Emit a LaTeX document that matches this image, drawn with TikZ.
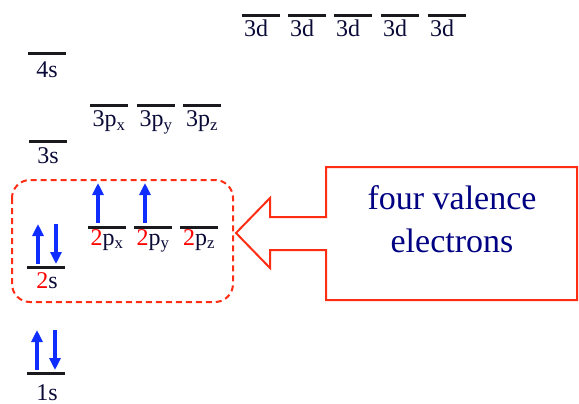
\documentclass[tikz,border=0pt]{standalone}
\usepackage{fontspec}
\setmainfont{Liberation Serif}
\usetikzlibrary{arrows.meta, positioning, calc}

\definecolor{barcol}{RGB}{25,25,30}
\definecolor{lblcol}{RGB}{10,10,55}
\definecolor{boxred}{RGB}{255,45,20}
\definecolor{elblue}{RGB}{15,45,255}
\definecolor{navytext}{RGB}{0,0,130}

\begin{document}
\begin{tikzpicture}[
    x=1pt, y=-1pt,
    bar/.style={draw=barcol, line width=3pt},
    lbl/.style={text=lblcol, font=\fontsize{24}{26}\selectfont, anchor=base, inner sep=0pt},
    spin/.style={draw=elblue, line width=3.5pt, -{Triangle[length=12pt, width=11pt]}},
    ]
    \useasboundingbox (0,0) rectangle (579,404);

    % Macro for one orbital level: bar + label
    % #1 name, #2 left x, #3 bar y, #4 label, #5 label centre x, #6 label baseline y
    \newcommand{\orbital}[6]{
        \coordinate (#1-l) at (#2,#3);
        \coordinate (#1-r) at (#2+38,#3);
        \draw[bar] (#1-l) -- (#1-r);
        \node[lbl] (#1) at (#5,#6) {#4};
    }
    \newcommand{\two}{\textcolor{red}{2}}

    % ==========================================
    % Orbital levels
    % ==========================================
    \orbital{o1s}{27}{373}{1s}{47}{400}
    \orbital{o2s}{27}{267}{\two s}{47}{288}
    \orbital{o3s}{29}{141}{3s}{48}{163}
    \orbital{o4s}{28}{54}{4s}{47}{78}

    \foreach \name/\x/\sub in {x/88/x, y/134/y, z/180/z}
        \orbital{o2p\name}{\x}{227}{\two p\textsubscript{\sub}}{\x+19}{245};
    \foreach \name/\x/\sub in {x/90/x, y/137/y, z/183/z}
        \orbital{o3p\name}{\x}{106}{3p\textsubscript{\sub}}{\x+19}{127};
    \foreach \i/\x in {1/242, 2/288, 3/334, 4/381, 5/428}
        \orbital{o3d\i}{\x}{16}{3d}{\x+14}{37};

    % ==========================================
    % Electrons
    % ==========================================
    \draw[spin] ($(o1s-l)+(10,-3)$) -- ++(0,-40);
    \draw[spin] ($(o1s-l)+(28,-43)$) -- ++(0,40);
    \draw[spin] ($(o2s-l)+(11,-3)$) -- ++(0,-40);
    \draw[spin] ($(o2s-l)+(29,-43)$) -- ++(0,40);
    \draw[spin] ($(o2px-l)+(10,-4)$) -- ++(0,-40);
    \draw[spin] ($(o2py-l)+(11,-4)$) -- ++(0,-40);

    % ==========================================
    % Valence box and callout
    % ==========================================
    \draw[boxred, line width=2pt, dash pattern=on 6pt off 4pt, rounded corners=18pt]
        (12,180) rectangle (233,302);

    \draw[boxred, line width=2pt]
        (326,167) -- (577,167) -- (577,300) -- (326,300) -- (326,250) -- (270,250)
        -- (270,268) -- (236,233) -- (270,198) -- (270,217) -- (326,217) -- cycle;

    \node[text=navytext, align=center, font=\fontsize{34}{43}\selectfont] (valence)
        at (452,219) {four valence\\electrons};

\end{tikzpicture}
\end{document}
